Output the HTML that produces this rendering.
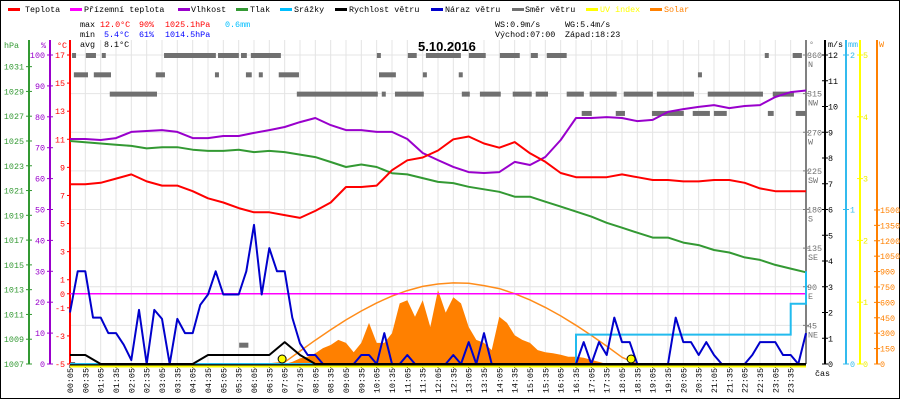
<!DOCTYPE html>
<html><head><meta charset="utf-8"><style>
html,body{margin:0;padding:0;background:#fff;}
svg{display:block;font-family:"Liberation Mono",monospace;}
</style></head><body>
<svg id="chart" width="900" height="400" viewBox="0 0 900 400" xmlns="http://www.w3.org/2000/svg">
<rect x="0.5" y="0.5" width="899" height="398" fill="#fff" stroke="#000"/>
<g id="grid"></g>
<g id="legend" font-size="8.4">
 <g><rect x="8" y="8" width="12" height="3" fill="#ff0000"/><text x="25" y="12">Teplota</text></g>
 <g><rect x="70" y="8" width="12" height="3" fill="#ff00ff"/><text x="84" y="12">Přízemní teplota</text></g>
 <g><rect x="178" y="8" width="12" height="3" fill="#9900cc"/><text x="191" y="12">Vlhkost</text></g>
 <g><rect x="236" y="8" width="12" height="3" fill="#339933"/><text x="250" y="12">Tlak</text></g>
 <g><rect x="280" y="8" width="12" height="3" fill="#00bfff"/><text x="294" y="12">Srážky</text></g>
 <g><rect x="335" y="8" width="12" height="3" fill="#000"/><text x="349" y="12">Rychlost větru</text></g>
 <g><rect x="431" y="8" width="12" height="3" fill="#0000cc"/><text x="445" y="12">Náraz větru</text></g>
 <g><rect x="512" y="8" width="12" height="3" fill="#707070"/><text x="525" y="12">Směr větru</text></g>
 <g><rect x="586" y="8" width="12" height="3" fill="#ffff00"/><text x="600" y="12" fill="#ffff00">UV index</text></g>
 <g><rect x="650" y="8" width="12" height="3" fill="#ff8000"/><text x="664" y="12" fill="#ff8000">Solar</text></g>
</g>
<g id="stats" font-size="8.4">
 <text x="80" y="27">max</text>
 <text x="100" y="27" fill="#ff0000">12.0°C</text>
 <text x="139" y="27" fill="#ff0000">90%</text>
 <text x="165" y="27" fill="#ff0000">1025.1hPa</text>
 <text x="225" y="27" fill="#00bfff">0.6mm</text>
 <text x="80" y="37">min</text>
 <text x="104" y="37" fill="#0000ff">5.4°C</text>
 <text x="139" y="37" fill="#0000ff">61%</text>
 <text x="165" y="37" fill="#0000ff">1014.5hPa</text>
 <text x="80" y="47">avg</text>
 <text x="104" y="47">8.1°C</text>
 <text x="495" y="27">WS:0.9m/s</text>
 <text x="565" y="27">WG:5.4m/s</text>
 <text x="495" y="37">Východ:07:00</text>
 <text x="565" y="37">Západ:18:23</text>
 <text x="418" y="51" font-family="Liberation Sans, sans-serif" font-weight="bold" font-size="13">5.10.2016</text>
</g>
<g id="axes" font-size="8.4"></g>
<g id="series"></g>
</svg>
<script>
// ---- data (sampled every 30 min from 00:05, index k) ----
var temperature=[7.8,7.8,7.9,8.2,8.5,8.0,7.7,7.7,7.3,6.8,6.5,6.1,5.8,5.8,5.6,5.4,5.9,6.5,7.6,7.6,7.7,8.8,9.5,9.7,10.2,11.0,11.2,10.7,10.4,10.8,10.0,9.4,8.6,8.3,8.3,8.3,8.5,8.3,8.1,8.1,8.0,8.0,8.1,8.1,7.9,7.5,7.3,7.3,7.3];
var groundTemp=[0,0];
var humidity=[72.8,72.8,72.5,73.1,75.1,75.4,75.7,75.1,73.1,73.1,73.8,73.8,74.8,75.7,76.7,78.3,79.6,77.3,75.7,75.7,75.1,75.1,72.8,68.3,66.0,63.8,62.1,61.8,62.1,65.4,64.4,67.0,72.5,79.6,79.6,79.9,79.6,78.6,79.0,81.6,82.5,83.2,83.8,82.8,83.5,83.8,86.4,88.0,88.5];
var pressure=[1025.0,1024.9,1024.8,1024.7,1024.6,1024.4,1024.5,1024.5,1024.3,1024.2,1024.2,1024.3,1024.1,1024.2,1024.1,1023.9,1023.7,1023.3,1022.9,1023.1,1022.9,1022.4,1022.3,1022.0,1021.7,1021.6,1021.3,1021.1,1020.9,1020.5,1020.5,1020.1,1019.7,1019.3,1018.9,1018.4,1018.0,1017.6,1017.2,1017.2,1016.8,1016.6,1016.2,1016.0,1015.6,1015.4,1015.0,1014.7,1014.4];
// gust at 15-min steps (index j)
var gust=[2.0,3.6,3.6,1.8,1.8,1.2,1.2,0.75,0.15,2.1,0,2.1,1.75,0,1.75,1.2,1.2,2.3,2.7,3.6,2.7,2.7,2.7,3.6,5.4,2.7,4.5,3.6,3.6,1.8,0.8,0.35,0.35,0,0,0,0,0,0.35,0.35,0,1.2,0,0,0.35,0,0,0,0,0,0.35,0,0.85,0,1.2,0,0,0,0,0,0,0,0,0,0,0,0,0.85,0,0.85,0.35,1.8,0.85,0.85,0,0,0,0,0,1.8,0.85,0.85,0.35,0.85,0.35,0,0,0,0,0.35,0.85,0.85,0.85,0.35,0.35,0,1.2];
var windSpeed=[0.35,0.35,0,0,0,0,0,0,0,0.35,0.35,0.35,0.35,0.35,0.85,0.35,0,0,0,0,0,0,0,0,0,0,0,0,0,0,0,0,0,0,0,0,0,0,0,0,0,0,0,0,0,0,0,0,0];
var rain=[0,0,0,0,0,0,0,0,0,0,0,0,0,0,0,0,0,0,0,0,0,0,0,0,0,0,0,0,0,0,0,0,0,0.19,0.19,0.19,0.19,0.19,0.19,0.19,0.19,0.19,0.19,0.19,0.19,0.19,0.19,0.39,0.6];
var uvIndex=[0,0];
var solarTheory=[0,0,0,0,0,0,0,0,0,0,0,0,0,0,18,126,232,333,429,516,595,661,715,756,779,790,786,763,734,685,624,551,468,377,278,174,65,0];
var solarStartK=14;
var solarMeasured=[0,20,55,70,105,155,185,235,205,115,205,400,205,205,300,590,620,460,620,360,720,500,650,590,360,235,205,135,460,400,280,235,205,135,115,105,90,70,70,60,40,20,0];
var dirStart=[0.15,0.6,1.12,3.15,4.91,5.66,5.98,10.09,11.10,11.69,13.09,14.1,15.11,15.63,22.74,23.65, 0.21,0.86,2.88,4.81,5.82,6.24,6.89,10.16,11.59,12.76,20.56, 1.38,7.48,10.25,10.68,12.86,13.45,14.52,15.27,16.28,17.03,18.14,19.22,20.07,20.88,23.0, 16.77,17.88,19.06,20.39,21.08,22.84,23.75, 0.1,5.6];
var dirEnd=[0.24,0.93,1.22,4.84,5.59,5.85,6.96,10.22,11.39,12.83,13.64,14.75,15.34,16.28,22.87,23.95, 0.67,1.42,3.18,4.94,6.01,6.37,7.55,10.71,11.72,12.89,20.69, 2.92,10.12,10.38,11.62,13.12,14.13,15.14,15.67,16.84,17.91,19.09,20.07,20.43,22.68,23.69, 17.1,18.18,20.1,20.95,21.5,23.03,24.08, 0.25,5.9];
var dirDeg=[360,360,360,360,360,360,360,360,360,360,360,360,360,360,360,360, 337.5,337.5,337.5,337.5,337.5,337.5,337.5,337.5,337.5,337.5,337.5, 315,315,315,315,315,315,315,315,315,315,315,315,315,315,315, 292.5,292.5,292.5,292.5,292.5,292.5,292.5, 0,22.5];
var sunrise=7.0, sunset=18.38;
var tempTicks=[17,15,13,11,9,7,5,3,1,0,-1,-3,-5];
var humTicks=[100,90,80,70,60,50,40,30,20,10,0];
var pressTicks=[1031,1029,1027,1025,1023,1021,1019,1017,1015,1013,1011,1009,1007];
var dirTicks=[360,315,270,225,180,135,90,45];
var dirNames=["N","NW","W","SW","S","SE","E","NE"];
var windTicks=[0,1,2,3,4,5,6,7,8,9,10,11,12];
var rainTicks=[0,1,2];
var uvTicks=[0,1,2,3,4,5];
var solarTicks=[0,150,300,450,600,750,900,1050,1200,1350,1500];
var timeLabels=[];
for(var i=0;i<48;i++){var m=5+i*30;var hh=Math.floor(m/60),mm=m%60;timeLabels.push((hh<10?"0":"")+hh+":"+(mm<10?"0":"")+mm);}

var X0=70,PX=15.333,BOT=364,TOP=55;
function xk(k){return X0+k*PX;}
function xh(h){return X0+(h-5/60)*PX*2;}
function yT(t){return BOT-(t+5)*14.045;}
function yHum(h){return BOT-h*3.09;}
function yP(p){return BOT-(p-1007)*12.39;}
function yW(v){return BOT-v*25.75;}
function yD(d){return BOT-d*309/360;}
function yR(r){return BOT-r*154.5;}
function yUV(u){return BOT-u*61.8;}
function yS(w){return BOT-w*0.1027;}

var NS="http://www.w3.org/2000/svg";
function mk(tag,attrs,parent,txt){var e=document.createElementNS(NS,tag);for(var a in attrs)e.setAttribute(a,attrs[a]);if(txt!==undefined)e.textContent=txt;parent.appendChild(e);return e;}
var grid=document.getElementById('grid'),axes=document.getElementById('axes'),ser=document.getElementById('series');

for(var k=0;k<=48;k++){var gl=mk('line',{x1:xk(k),x2:xk(k),y1:40,y2:BOT,stroke:'#e4e4e4','stroke-width':1},grid);

}
dirTicks.forEach(function(d){var gl=mk('line',{x1:X0,x2:806,y1:yD(d),y2:yD(d),stroke:'#e4e4e4','stroke-width':1},grid);

});

function vline(x,y1,y2,c,name){var l=mk('line',{x1:x,x2:x,y1:y1,y2:y2,stroke:c,'stroke-width':2},axes);

}
vline(29,40,BOT,'#339933','pressure-axis');
vline(50,40,BOT,'#9900cc','humidity-axis');
vline(70,40,BOT,'#ff0000','temperature-axis');
var t1=mk('text',{x:4,y:48,fill:'#339933'},axes,'hPa');
var t2=mk('text',{x:41,y:48,fill:'#9900cc'},axes,'%');
var t3=mk('text',{x:57,y:48,fill:'#ff0000'},axes,'°C');
pressTicks.forEach(function(p){var y=yP(p);mk('line',{x1:26,x2:32,y1:y,y2:y,stroke:'#339933'},axes);
var t=mk('text',{x:24,y:y+3,fill:'#339933','text-anchor':'end'},axes,p);});
humTicks.forEach(function(h){var y=yHum(h);mk('line',{x1:47,x2:53,y1:y,y2:y,stroke:'#9900cc'},axes);
var t=mk('text',{x:45,y:y+3,fill:'#9900cc','text-anchor':'end'},axes,h);});
tempTicks.forEach(function(v){var y=yT(v);mk('line',{x1:67,x2:70,y1:y,y2:y,stroke:'#ff0000'},axes);
var t=mk('text',{x:65,y:y+3,fill:'#ff0000','text-anchor':'end'},axes,v);});

vline(806,40,BOT,'#808080','direction-axis');
vline(825,40,BOT,'#000000','wind-axis');
vline(846,40,BOT,'#33bbee','rain-axis');
vline(860,40,BOT,'#ffff00','uv-axis');
vline(877,40,BOT,'#ff8000','solar-axis');
var ta=mk('text',{x:809,y:47,fill:'#808080'},axes,'°');
var tb=mk('text',{x:828,y:47},axes,'m/s');
var tc=mk('text',{x:848,y:47,fill:'#33bbee'},axes,'mm');
var td=mk('text',{x:879,y:47,fill:'#ff8000'},axes,'W');
dirTicks.forEach(function(d,i){var y=yD(d);mk('line',{x1:803,x2:809,y1:y,y2:y,stroke:'#808080'},axes);
var t=mk('text',{x:807,y:y+3,fill:'#707070'},axes,d);
var n=mk('text',{x:808,y:y+12,fill:'#707070'},axes,dirNames[i]);});
windTicks.forEach(function(v){var y=yW(v);mk('line',{x1:822,x2:828,y1:y,y2:y,stroke:'#000'},axes);
var t=mk('text',{x:828,y:y+3},axes,v);});
rainTicks.forEach(function(v){var y=yR(v);mk('line',{x1:843,x2:849,y1:y,y2:y,stroke:'#33bbee'},axes);
var t=mk('text',{x:850,y:y+3,fill:'#33bbee'},axes,v);});
uvTicks.forEach(function(v){var y=yUV(v);mk('line',{x1:857,x2:863,y1:y,y2:y,stroke:'#ffff00'},axes);
var t=mk('text',{x:863,y:y+3,fill:'#eeee00'},axes,v);});
solarTicks.forEach(function(v){var y=yS(v);mk('line',{x1:874,x2:880,y1:y,y2:y,stroke:'#ff8000'},axes);
var t=mk('text',{x:880,y:y+3,fill:'#ff8000'},axes,v);});

timeLabels.forEach(function(l,k){var x=xk(k);mk('line',{x1:x,x2:x,y1:365,y2:368,stroke:'#000'},axes);
var t=mk('text',{x:x+3,y:368,'text-anchor':'end',transform:'rotate(-90 '+(x+3)+' 368)'},axes,l);

});
var tcas=mk('text',{x:815,y:376},axes,'čas');

function line(vals,ys,color,w,name,step){var st=step||PX;var pts=vals.map(function(v,k){return (X0+k*st).toFixed(1)+','+ys(v).toFixed(1);}).join(' ');
var p=mk('polyline',{points:pts,fill:'none',stroke:color,'stroke-width':w,'stroke-linejoin':'round'},ser);

return p;}

var sp='M'+xk(solarStartK)+','+BOT;
solarMeasured.forEach(function(v,i){sp+=' L'+xk(solarStartK+i*0.5).toFixed(1)+','+yS(v).toFixed(1);});
sp+=' L'+xk(solarStartK+(solarMeasured.length-1)*0.5)+','+BOT+' Z';
var sa=mk('path',{d:sp,fill:'#ff8000'},ser);


line(solarTheory,yS,'#ff8c1a',1.5,'solar-theory-line');

for(var i=0;i<dirStart.length;i++){var r=mk('rect',{x:xh(dirStart[i]),y:yD(dirDeg[i])-2,width:Math.max(4,xh(dirEnd[i])-xh(dirStart[i])),height:5,fill:'#707070'},ser);

}

line(pressure,yP,'#339933',2,'pressure-line');
line(humidity,yHum,'#9900cc',2,'humidity-line');
line(temperature,yT,'#ff0000',2,'temperature-line');
var gt=mk('line',{x1:X0,x2:806,y1:yT(groundTemp[0]),y2:yT(groundTemp[1]),stroke:'#ff00ff','stroke-width':1.5},ser);


var rp='M'+xk(0)+','+yR(rain[0]);
rain.forEach(function(v,k){if(k>0){rp+=' L'+xk(k).toFixed(1)+','+yR(rain[k-1]).toFixed(1)+' L'+xk(k).toFixed(1)+','+yR(v).toFixed(1);}});
var rl=mk('path',{d:rp,fill:'none',stroke:'#22bbee','stroke-width':2},ser);


line(gust,yW,'#0000cc',2,'gust-line',PX/2);
line(windSpeed,yW,'#000000',2,'wind-speed-line');
var bl=mk('line',{x1:X0,x2:806,y1:365,y2:365,stroke:'#000','stroke-width':1.5},ser);


var uv=mk('line',{x1:X0,x2:806,y1:yUV(uvIndex[0])+2.5,y2:yUV(uvIndex[1])+2.5,stroke:'#ffff00','stroke-width':2},ser);


var c1=mk('circle',{cx:xh(sunrise),cy:359,r:4,fill:'#ffff00',stroke:'#000','stroke-width':1},ser);


var c2=mk('circle',{cx:xh(sunset),cy:359,r:4,fill:'#ffff00',stroke:'#000','stroke-width':1},ser);


</script>
</body></html>
